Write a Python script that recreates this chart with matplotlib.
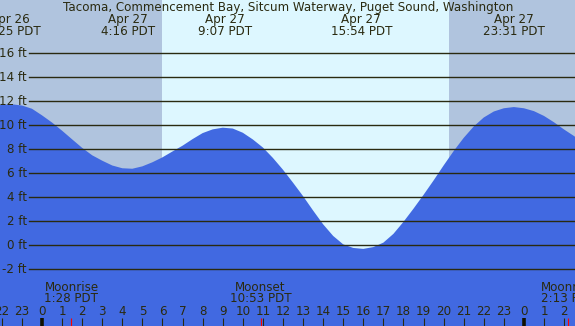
import matplotlib
matplotlib.use("Agg")
import matplotlib.pyplot as plt
import matplotlib.transforms as mtransforms

# ---- data (hours relative to Apr 27 00:00 PDT) ----
hours = [-2.5, -2.0, -1.5, -1.0, -0.5, 0.0, 0.5, 1.0, 1.5, 2.0, 2.5, 3.0, 3.5,
         4.0, 4.5, 5.0, 5.5, 6.0, 6.5, 7.0, 7.5, 8.0, 8.5, 9.0, 9.5, 10.0,
         10.5, 11.0, 11.5, 12.0, 12.5, 13.0, 13.5, 14.0, 14.5, 15.0, 15.5,
         16.0, 16.5, 17.0, 17.5, 18.0, 18.5, 19.0, 19.5, 20.0, 20.5, 21.0,
         21.5, 22.0, 22.5, 23.0, 23.5, 24.0, 24.5, 25.0, 25.5, 26.0, 26.5, 27.0]
heights = [11.55, 11.71, 11.75, 11.65, 11.38, 10.83, 10.23, 9.55, 8.83, 8.12,
           7.50, 7.05, 6.65, 6.42, 6.38, 6.58, 6.92, 7.33, 7.82, 8.30, 8.85,
           9.35, 9.66, 9.80, 9.73, 9.38, 8.82, 8.15, 7.28, 6.30, 5.22, 4.10,
           2.90, 1.75, 0.78, 0.08, -0.22, -0.30, -0.15, 0.22, 0.95, 1.95, 3.05,
           4.20, 5.40, 6.65, 7.85, 8.95, 9.90, 10.65, 11.15, 11.42, 11.52,
           11.42, 11.18, 10.78, 10.25, 9.65, 9.10, 8.50]

extreme_hours = [-1.583, 4.267, 9.117, 15.9, 23.517]
extreme_dates = ["Apr 26", "Apr 27", "Apr 27", "Apr 27", "Apr 27"]
extreme_times = ["22:25 PDT", "4:16 PDT", "9:07 PDT", "15:54 PDT", "23:31 PDT"]

sunrise = 5.98
sunset = 20.27

moon_hours = [1.467, 10.883, 26.217]
moon_names = ["Moonrise", "Moonset", "Moonrise"]
moon_times = ["1:28 PDT", "10:53 PDT", "2:13 PDT"]

y_ticks = [-2, 0, 2, 4, 6, 8, 10, 12, 14, 16]
hour_ticks = list(range(-2, 27))
hour_labels = [str(h % 24) for h in hour_ticks]

title = "Tacoma, Commencement Bay, Sitcum Waterway, Puget Sound, Washington"

# ---- style ----
W, H = 575, 326
NIGHT = "#B0C4DE"
DAY = "#DDF7FF"
WATER = "#4169E1"
INK = "#2a2a10"
FS = 8.6

fig = plt.figure(figsize=(W / 100, H / 100), dpi=100)
ax = fig.add_axes([0, 0, 1, 1])
xmin, xmax = -42 / 20.08, (575 - 42) / 20.08
ymin, ymax = -(326 - 245.3) / 12.0, 245.3 / 12.0
ax.set_xlim(xmin, xmax)
ax.set_ylim(ymin, ymax)
ax.set_axis_off()

ax.axvspan(xmin, sunrise, color=NIGHT, lw=0, zorder=0)
ax.axvspan(sunrise, sunset, color=DAY, lw=0, zorder=0)
ax.axvspan(sunset, xmax, color=NIGHT, lw=0, zorder=0)

ax.fill_between(hours, heights, ymin - 1, color=WATER, lw=0, zorder=1)

xtrans = mtransforms.blended_transform_factory(ax.transAxes, ax.transData)
ytrans = mtransforms.blended_transform_factory(ax.transData, ax.transAxes)

for v in y_ticks:
    ax.plot([29 / W, 1], [v, v], transform=xtrans, color=INK, lw=1.0, zorder=2)
    ax.text(27 / W, v, f"{v} ft", transform=xtrans, ha="right", va="center",
            fontsize=FS, color=INK, zorder=3)

ax.text(0.5 * (65 + 511) / W, 1 - 7.5 / H, title, transform=ax.transAxes,
        ha="center", va="center", fontsize=FS, color=INK, zorder=3)

for hx, d, t in zip(extreme_hours, extreme_dates, extreme_times):
    ax.text(hx, 1 - 20 / H, d, transform=ytrans, ha="center", va="center",
            fontsize=FS, color=INK, zorder=3)
    ax.text(hx, 1 - 31.5 / H, t, transform=ytrans, ha="center", va="center",
            fontsize=FS, color=INK, zorder=3)

for hx, n, t in zip(moon_hours, moon_names, moon_times):
    ax.text(hx, 1 - 287.5 / H, n, transform=ytrans, ha="center", va="center",
            fontsize=FS, color=INK, zorder=3)
    ax.text(hx, 1 - 299 / H, t, transform=ytrans, ha="center", va="center",
            fontsize=FS, color=INK, zorder=3)

tick_top = (326 - 318) / H
for h, lab in zip(hour_ticks, hour_labels):
    ax.text(h, 1 - 311.5 / H, lab, transform=ytrans, ha="center", va="center",
            fontsize=FS, color=INK, zorder=3)
    if h % 24 == 0:
        ax.plot([h, h], [0, tick_top], transform=ytrans, color="#111100",
                lw=2.6, solid_capstyle="butt", zorder=3)
    else:
        ax.plot([h, h], [0, tick_top], transform=ytrans, color=INK,
                lw=0.8, solid_capstyle="butt", zorder=3)

for hx in moon_hours:
    ax.plot([hx, hx], [0, tick_top], transform=ytrans, color="#ff0000",
            lw=0.8, solid_capstyle="butt", zorder=3)

fig.savefig("out.png", dpi=100)
